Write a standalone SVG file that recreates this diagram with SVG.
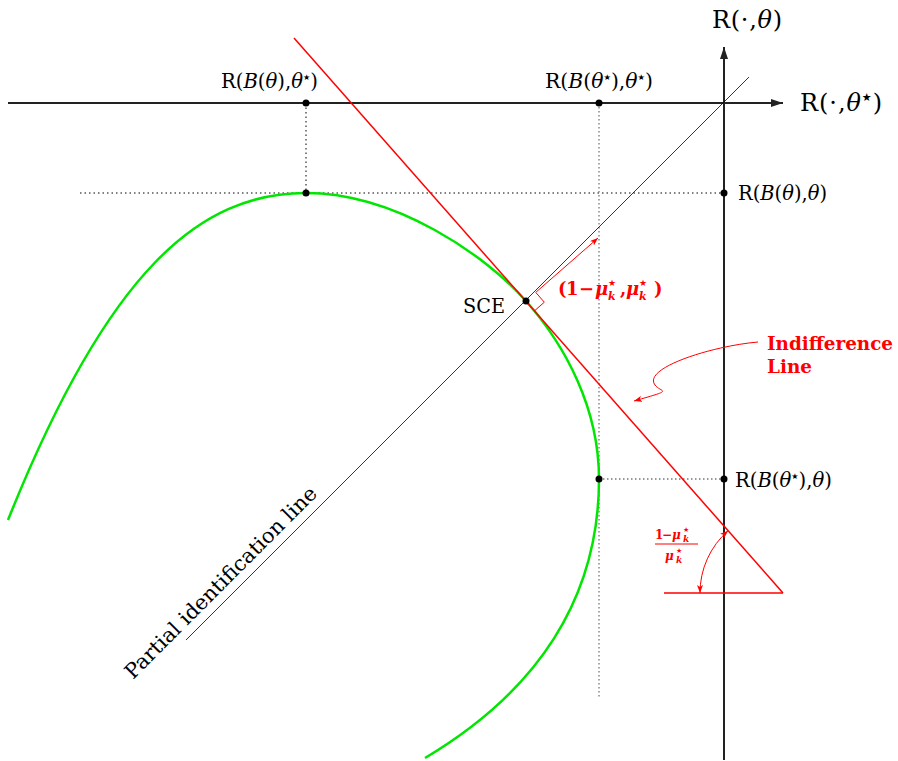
<svg xmlns="http://www.w3.org/2000/svg" width="898" height="761" viewBox="0 0 898 761">
<style>
.lbl{font-family:"DejaVu Serif","Liberation Serif",serif;fill:#000;}
.it{font-style:italic;}
.st{font-family:"DejaVu Sans",sans-serif;font-style:normal;font-weight:normal;}
.red{font-family:"DejaVu Serif","Liberation Serif",serif;fill:#f00;font-weight:bold;}
.axis{stroke:#222;stroke-width:2;fill:none;}
.dotk{stroke:#000;stroke-width:1;stroke-dasharray:1.5 3;fill:none;}
.dotg{stroke:#777;stroke-width:1.3;stroke-dasharray:1.5 2.5;fill:none;}
.rl{stroke:#f00;stroke-width:1.5;fill:none;}
.ra{stroke:#f00;stroke-width:1;fill:none;}
</style>
<defs>
<marker id="ax" viewBox="0 0 12 8" refX="12" refY="4" markerWidth="12" markerHeight="8" markerUnits="userSpaceOnUse" orient="auto"><path d="M0,0 L12,4 L0,8 z" fill="#222"/></marker>
<marker id="rh" viewBox="0 0 8 6" refX="8" refY="3" markerWidth="8" markerHeight="6" markerUnits="userSpaceOnUse" orient="auto-start-reverse"><path d="M0,0 L8,3 L0,6 L2,3 z" fill="#f00"/></marker>
</defs>
<rect width="898" height="761" fill="#fff"/>

<g id="guides">
<line class="dotk" x1="306" y1="103" x2="306" y2="193"/>
<line class="dotk" x1="80" y1="193" x2="724" y2="193"/>
<line class="dotg" x1="599" y1="103" x2="599" y2="697"/>
<line class="dotg" x1="599" y1="479" x2="724" y2="479"/>
</g>

<g id="axes">
<line class="axis" x1="8" y1="103" x2="783" y2="103" marker-end="url(#ax)"/>
<line class="axis" x1="724" y1="760" x2="724" y2="47" marker-end="url(#ax)"/>
</g>

<g id="partial-identification-line">
<line x1="186" y1="640" x2="749" y2="77" stroke="#000" stroke-width="0.8"/>
<text class="lbl" font-size="20.5" transform="translate(133,680) rotate(-45)" textLength="262" lengthAdjust="spacingAndGlyphs">Partial identification line</text>
</g>

<g id="frontier">
<path d="M8,520 C108,270 200,193 306,193 C396,193 486,255.6 526,301 C566,346.4 599,409 599,479 C599,599 536.7,691.6 425,758" stroke="#00e600" stroke-width="2.5" fill="none"/>
</g>

<g id="indifference-line">
<line class="rl" x1="294" y1="38" x2="783" y2="593"/>
<line class="rl" x1="664" y1="593" x2="783" y2="593"/>
</g>

<g id="connectors">
<polyline class="ra" points="535.75,292.4 544.3,302.2 534.6,310.75"/>
<line class="ra" x1="535.75" y1="292.4" x2="598" y2="238" marker-end="url(#rh)"/>
<path class="ra" d="M758,342 C712,346 642,368 655,385 C661,393 676,389 634,401" marker-end="url(#rh)"/>
<path class="ra" d="M700,593 A83,83 0 0 1 728.1,530.7" marker-start="url(#rh)" marker-end="url(#rh)"/>
</g>

<g id="points">
<circle cx="306" cy="103" r="3.5"/>
<circle cx="599" cy="103" r="3.5"/>
<circle cx="306" cy="193" r="3.5"/>
<circle cx="724" cy="193" r="3.5"/>
<circle cx="526" cy="301" r="3.5"/>
<circle cx="599" cy="479" r="3.5"/>
<circle cx="724" cy="479" r="3.5"/>
</g>

<g id="labels">
<text class="lbl" x="712" y="28" font-size="24" textLength="70" lengthAdjust="spacing">R(·,<tspan class="it">θ</tspan>)</text>
<text class="lbl" x="800" y="111" font-size="24" textLength="82" lengthAdjust="spacing">R(·,<tspan class="it">θ</tspan><tspan class="st" font-size="11" dy="-10">★</tspan><tspan dy="10">)</tspan></text>
<text class="lbl" x="221" y="88" font-size="19.5" textLength="97" lengthAdjust="spacingAndGlyphs">R(<tspan class="it">B</tspan>(<tspan class="it">θ</tspan>),<tspan class="it">θ</tspan><tspan class="st" font-size="8" dy="-8">★</tspan><tspan dy="8">)</tspan></text>
<text class="lbl" x="545" y="88" font-size="19.5" textLength="108" lengthAdjust="spacingAndGlyphs">R(<tspan class="it">B</tspan>(<tspan class="it">θ</tspan><tspan class="st" font-size="8" dy="-8">★</tspan><tspan dy="8">),</tspan><tspan class="it">θ</tspan><tspan class="st" font-size="8" dy="-8">★</tspan><tspan dy="8">)</tspan></text>
<text class="lbl" x="738" y="200" font-size="19.5" textLength="89" lengthAdjust="spacingAndGlyphs">R(<tspan class="it">B</tspan>(<tspan class="it">θ</tspan>),<tspan class="it">θ</tspan>)</text>
<text class="lbl" x="735" y="487" font-size="19.5" textLength="97" lengthAdjust="spacingAndGlyphs">R(<tspan class="it">B</tspan>(<tspan class="it">θ</tspan><tspan class="st" font-size="8" dy="-8">★</tspan><tspan dy="8">),</tspan><tspan class="it">θ</tspan>)</text>
<text class="lbl" x="463" y="313" font-size="20" textLength="42" lengthAdjust="spacingAndGlyphs">SCE</text>

<text class="red" font-size="18" y="295"><tspan x="558">(</tspan><tspan x="566">1</tspan><tspan x="579">−</tspan><tspan x="595" class="it">μ</tspan><tspan x="608" dy="5" font-size="11" class="it">k</tspan><tspan x="608" dy="-14" font-size="9" class="st">★</tspan><tspan x="620" dy="9">,</tspan><tspan x="626" class="it">μ</tspan><tspan x="639" dy="5" font-size="11" class="it">k</tspan><tspan x="639" dy="-14" font-size="9" class="st">★</tspan><tspan x="654" dy="9">)</tspan></text>

<text class="red" font-size="18.5" x="767" y="350" textLength="126" lengthAdjust="spacingAndGlyphs">Indifference</text>
<text class="red" font-size="18.5" x="767" y="373" textLength="45" lengthAdjust="spacingAndGlyphs">Line</text>

<text class="red" font-size="12" y="539"><tspan x="655">1</tspan><tspan x="662">−</tspan><tspan x="672" class="it">μ</tspan><tspan x="683" dy="3" font-size="9" class="it">k</tspan><tspan x="683" dy="-10" font-size="7" class="st">★</tspan></text>
<line x1="655" y1="544" x2="698" y2="544" stroke="#f00" stroke-width="1.2"/>
<text class="red" font-size="12" y="560"><tspan x="665" class="it">μ</tspan><tspan x="676" dy="3" font-size="9" class="it">k</tspan><tspan x="676" dy="-10" font-size="7" class="st">★</tspan></text>
</g>
</svg>
